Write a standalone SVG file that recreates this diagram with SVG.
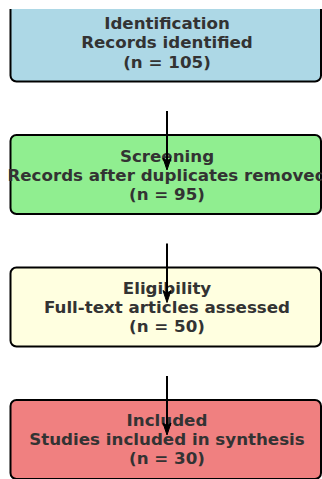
<svg xmlns="http://www.w3.org/2000/svg" width="322" height="479" viewBox="0 0 322 479">
<style>
.box{stroke:#000;stroke-width:2}
.t{font-family:"DejaVu Sans",sans-serif;font-weight:bold;font-size:16.7px;fill:#333;text-anchor:middle}
.ln{stroke:#000;stroke-width:2;fill:none}
.hd{fill:#000;stroke:#000;stroke-width:1}
</style>
<defs>
<clipPath id="clip"><rect x="0" y="9" width="322" height="470"/></clipPath>
</defs>
<g clip-path="url(#clip)">
<g id="identification">
<rect class="box" x="10.5" y="2.5" width="310.5" height="79" rx="6" fill="#ADD8E6"/>
<text class="t" x="167" y="28.5">Identification</text>
<text class="t" x="167" y="48">Records identified</text>
<text class="t" x="167" y="67.5">(n = 105)</text>
</g>
<g id="screening">
<rect class="box" x="10.5" y="135" width="310.5" height="79" rx="6" fill="#90EE90"/>
<text class="t" x="167" y="161.5">Screening</text>
<text class="t" x="167" y="180.5">Records after duplicates removed</text>
<text class="t" x="167" y="200">(n = 95)</text>
</g>
<g id="eligibility">
<rect class="box" x="10.5" y="267.5" width="310.5" height="79" rx="6" fill="#FFFFE0"/>
<text class="t" x="167" y="293.5">Eligibility</text>
<text class="t" x="167" y="312.5">Full-text articles assessed</text>
<text class="t" x="167" y="332">(n = 50)</text>
</g>
<g id="included">
<rect class="box" x="10.5" y="400" width="310.5" height="79" rx="6" fill="#F08080"/>
<text class="t" x="167" y="425.5">Included</text>
<text class="t" x="167" y="444.5">Studies included in synthesis</text>
<text class="t" x="167" y="464">(n = 30)</text>
</g>
</g>
<g id="connectors">
<line class="ln" x1="167" y1="111" x2="167" y2="162"/>
<path class="hd" d="M167,170 L163,158 L167,161 L171,158 Z"/>
<line class="ln" x1="167" y1="243.5" x2="167" y2="294.5"/>
<path class="hd" d="M167,302.5 L163,290.5 L167,293.5 L171,290.5 Z"/>
<line class="ln" x1="167" y1="376" x2="167" y2="427"/>
<path class="hd" d="M167,435 L163,423 L167,426 L171,423 Z"/>
</g>
</svg>
